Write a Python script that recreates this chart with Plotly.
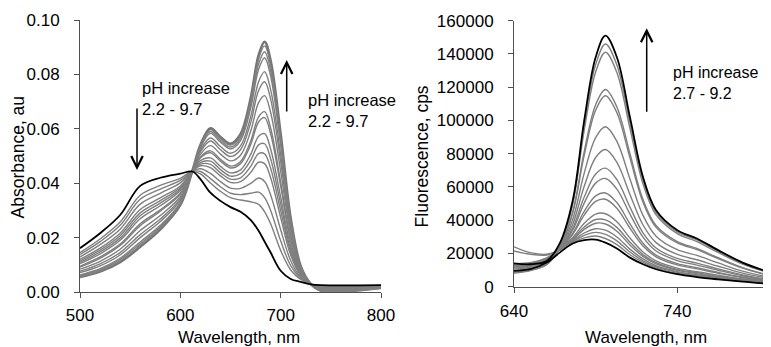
import plotly.graph_objects as go

# ---------------- Absorbance panel data ----------------
abs_wavelength = [500, 520, 540, 560, 580, 600, 612, 620, 630, 640, 650, 660, 670,
                  678, 684, 690, 700, 710, 720, 730, 740, 800]
# lowest pH (black)
abs_low_ph = [.0161, .0216, .0283, .0390, .0420, .0435, .0443, .0415, .0365, .0335, .0312,
              .0295, .0265, .0225, .0185, .0145, .0078, .0048, .0037, .0028, .0025, .0025]
# highest pH (thick grey)
abs_high_ph = [.0055, .0075, .0110, .0166, .0230, .0320, .0445, .0540, .0602, .0570, .0545,
               .0580, .0710, .0870, .0920, .0850, .0580, .0270, .0095, .0030, .0005, .0015]
# intermediate pH curves (grey)
abs_mid = [
    [.0057, .0078, .0113, .0170, .0234, .0322, .0445, .0538, .0597, .0565, .0540, .0574, .0701, .0857, .0905, .0836, .0570, .0266, .0094, .0030, .0005, .0015],
    [.0060, .0082, .0119, .0177, .0240, .0326, .0445, .0534, .0590, .0558, .0533, .0566, .0688, .0838, .0883, .0815, .0555, .0259, .0092, .0030, .0006, .0016],
    [.0063, .0086, .0124, .0184, .0245, .0329, .0445, .0530, .0583, .0551, .0526, .0557, .0674, .0818, .0861, .0794, .0540, .0252, .0090, .0030, .0007, .0016],
    [.0071, .0096, .0136, .0200, .0259, .0337, .0445, .0521, .0566, .0535, .0510, .0537, .0643, .0773, .0810, .0744, .0505, .0237, .0086, .0030, .0008, .0017],
    [.0076, .0103, .0145, .0211, .0268, .0343, .0445, .0515, .0555, .0523, .0498, .0523, .0621, .0741, .0773, .0709, .0480, .0226, .0083, .0030, .0009, .0017],
    [.0084, .0113, .0157, .0226, .0281, .0351, .0444, .0506, .0538, .0507, .0482, .0503, .0590, .0696, .0722, .0660, .0444, .0210, .0079, .0029, .0010, .0018],
    [.0092, .0124, .0171, .0244, .0297, .0360, .0444, .0496, .0519, .0488, .0463, .0480, .0554, .0644, .0663, .0603, .0404, .0192, .0075, .0029, .0012, .0019],
    [.0095, .0129, .0176, .0251, .0302, .0364, .0444, .0493, .0512, .0481, .0456, .0472, .0541, .0625, .0641, .0582, .0389, .0186, .0073, .0029, .0013, .0019],
    [.0104, .0140, .0190, .0269, .0317, .0373, .0444, .0483, .0493, .0462, .0438, .0449, .0505, .0573, .0582, .0526, .0349, .0168, .0068, .0029, .0014, .0020],
    [.0109, .0147, .0198, .0280, .0327, .0379, .0444, .0476, .0481, .0450, .0426, .0435, .0483, .0541, .0545, .0490, .0324, .0157, .0065, .0029, .0015, .0020],
    [.0114, .0154, .0207, .0291, .0336, .0384, .0444, .0470, .0469, .0438, .0415, .0420, .0461, .0509, .0508, .0455, .0299, .0146, .0063, .0029, .0016, .0021],
    [.0120, .0161, .0216, .0303, .0346, .0390, .0444, .0464, .0457, .0427, .0403, .0406, .0439, .0477, .0472, .0420, .0274, .0135, .0060, .0029, .0017, .0021],
    [.0129, .0174, .0231, .0323, .0363, .0401, .0444, .0453, .0436, .0406, .0382, .0381, .0399, .0419, .0406, .0357, .0229, .0115, .0054, .0029, .0019, .0022],
    [.0138, .0185, .0245, .0341, .0378, .0410, .0443, .0443, .0417, .0387, .0363, .0358, .0363, .0367, .0347, .0300, .0188, .0097, .0050, .0028, .0021, .0023],
    [.0145, .0195, .0257, .0356, .0392, .0418, .0443, .0434, .0401, .0370, .0347, .0338, .0332, .0322, .0295, .0251, .0153, .0081, .0046, .0028, .0022, .0024],
]

# ---------------- Fluorescence panel data ----------------
fl_wavelength = [640, 650, 660, 668, 676, 683, 690, 696, 703, 711, 719, 727, 740, 752, 765, 780, 797]
fl_low_ph = [9500, 10500, 14500, 20500, 26000, 28000, 28300, 26500, 23000, 17500, 13500, 10500,
             7500, 5800, 4400, 3000, 1700]
fl_high_ph = [14000, 13500, 15500, 26000, 52000, 100000, 138000, 151000, 138000, 102000, 66000,
              46000, 34000, 29000, 22000, 14500, 8500]
fl_mid = [
    [13900, 14400, 17400, 22000, 26500, 29400, 30500, 29000, 25300, 19200, 14600, 11200, 8000, 6300, 4800, 3200, 1800],
    [24000, 20500, 19500, 22100, 27000, 30900, 32700, 31500, 27600, 20900, 15600, 11900, 8600, 6700, 5100, 3500, 2000],
    [21500, 19500, 19000, 22100, 27600, 32300, 34900, 34000, 29900, 22600, 16700, 12600, 9100, 7200, 5500, 3700, 2100],
    [13500, 14100, 17100, 22200, 28300, 34500, 38200, 37700, 33400, 25100, 18200, 13700, 9900, 7900, 6000, 4000, 2300],
    [13300, 14000, 17000, 22200, 28900, 35900, 40400, 40200, 35700, 26800, 19300, 14400, 10400, 8400, 6300, 4300, 2400],
    [13200, 13800, 16900, 22300, 29600, 38100, 43700, 43900, 39100, 29300, 20900, 15500, 11200, 9000, 6900, 4600, 2700],
    [12700, 13500, 16600, 22400, 31500, 43100, 51300, 52600, 47200, 35200, 24500, 18000, 13100, 10700, 8100, 5400, 3100],
    [12600, 13300, 16400, 22500, 32200, 45300, 54600, 56400, 50600, 37800, 26100, 19000, 13900, 11400, 8600, 5800, 3300],
    [12100, 13000, 16100, 22600, 34100, 50300, 62300, 65100, 58700, 43700, 29800, 21500, 15700, 13000, 9900, 6600, 3800],
    [11800, 12700, 15900, 22700, 35400, 53900, 67800, 71300, 64400, 47900, 32400, 23300, 17000, 14200, 10700, 7100, 4100],
    [11300, 12300, 15500, 22900, 37700, 60400, 77700, 82500, 74800, 55500, 37100, 26500, 19400, 16200, 12300, 8200, 4800],
    [10600, 11700, 15000, 23100, 40600, 68300, 89700, 96200, 87400, 64800, 42900, 30400, 22300, 18800, 14300, 9400, 5500],
    [9700, 11000, 14300, 23400, 44500, 79100, 106200, 114900, 104700, 77500, 50800, 35700, 26300, 22300, 16900, 11200, 6500],
    [9600, 10800, 14200, 23500, 45200, 81300, 109500, 118600, 108100, 80000, 52400, 36800, 27100, 23000, 17400, 11500, 6700],
    [8500, 9900, 13400, 23800, 49900, 94200, 129200, 141000, 128800, 95200, 61800, 43200, 31900, 27100, 20600, 13600, 8000],
    [8200, 9700, 13200, 23900, 51000, 97100, 133600, 146000, 133400, 98600, 63900, 44600, 32900, 28100, 21300, 14000, 8200],
]

abs_xticks = [500, 600, 700, 800]
abs_yticks = [0, 0.02, 0.04, 0.06, 0.08, 0.10]
abs_ytick_text = ["0.00", "0.02", "0.04", "0.06", "0.08", "0.10"]
fl_xticks = [640, 740]
fl_yticks = [0, 20000, 40000, 60000, 80000, 100000, 120000, 140000, 160000]
fl_ytick_text = [str(v) for v in fl_yticks]

# ---------------- Figure ----------------
# page body has an 8 px margin, so the figure is drawn 8 px in from the top-left
OFF = 8
W, H = 771 - OFF, 347 - OFF
def px(x):
    return (x - OFF) / W
def py(y):
    return 1 - (y - OFF) / H

GREY = "#7f7f7f"
fig = go.Figure()

fig.add_trace(go.Scatter(x=abs_wavelength, y=abs_high_ph, mode="lines",
                         line=dict(color="#737373", width=2.6, shape="spline"),
                         xaxis="x", yaxis="y", hoverinfo="skip"))
for c in abs_mid:
    fig.add_trace(go.Scatter(x=abs_wavelength, y=c, mode="lines",
                             line=dict(color=GREY, width=1.4, shape="spline"),
                             xaxis="x", yaxis="y", hoverinfo="skip"))
fig.add_trace(go.Scatter(x=abs_wavelength, y=abs_low_ph, mode="lines",
                         line=dict(color="#000000", width=1.8, shape="spline"),
                         xaxis="x", yaxis="y", hoverinfo="skip"))

for c in fl_mid:
    fig.add_trace(go.Scatter(x=fl_wavelength, y=c, mode="lines",
                             line=dict(color=GREY, width=1.4, shape="spline"),
                             xaxis="x2", yaxis="y2", hoverinfo="skip"))
for c in (fl_low_ph, fl_high_ph):
    fig.add_trace(go.Scatter(x=fl_wavelength, y=c, mode="lines",
                             line=dict(color="#000000", width=1.8, shape="spline"),
                             xaxis="x2", yaxis="y2", hoverinfo="skip"))

FONT = "Liberation Sans, Arial, sans-serif"
tickfont = dict(family=FONT, size=17, color="#000000")
axis_common = dict(showgrid=False, zeroline=False, showline=True, linecolor="#505050",
                   linewidth=1, ticks="outside", ticklen=5, tickcolor="#505050",
                   tickwidth=1, tickfont=tickfont, automargin=False)

fig.update_layout(
    width=W, height=H, margin=dict(l=0, r=0, t=0, b=0, pad=0, autoexpand=False),
    paper_bgcolor="white", plot_bgcolor="white", showlegend=False,
    xaxis=dict(domain=[px(80), px(381)], range=[500, 800], tickvals=abs_xticks,
               anchor="y", ticklabelstandoff=3, **axis_common),
    yaxis=dict(domain=[py(292), py(20)], range=[0, 0.1], tickvals=abs_yticks,
               ticktext=abs_ytick_text, anchor="x", ticklabelstandoff=11, **axis_common),
    xaxis2=dict(domain=[px(514), 1.0], range=[640, 640 + (771 - 514) / 1.633],
                tickvals=fl_xticks, anchor="y2", ticklabelstandoff=4, **axis_common),
    yaxis2=dict(domain=[py(286.7), py(20.7)], range=[0, 160000], tickvals=fl_yticks,
                ticktext=fl_ytick_text, anchor="x2", ticklabelstandoff=11, **axis_common),
)

title_font = dict(family=FONT, size=17.5, color="#000000")
xtitle_font = dict(family=FONT, size=17, color="#000000")
note_left = dict(family=FONT, size=16.5, color="#000000")
note_right = dict(family=FONT, size=16, color="#000000")
ann = [
    dict(text="Absorbance, au", x=px(17), y=py(157.5), textangle=-90, font=title_font),
    dict(text="Wavelength, nm", x=px(239), y=py(337), font=xtitle_font),
    dict(text="Fluorescence, cps", x=px(421.7), y=py(156.7), textangle=-90, font=title_font),
    dict(text="Wavelength, nm", x=px(646), y=py(337), font=xtitle_font),
    dict(text="pH increase<br>2.2 - 9.7", x=px(139.5), y=py(98.5), xanchor="left",
         align="left", font=note_left),
    dict(text="pH increase<br>2.2 - 9.7", x=px(305.5), y=py(110.8), xanchor="left",
         align="left", font=note_left),
    dict(text="pH increase<br>2.7 - 9.2", x=px(670.5), y=py(83.3), xanchor="left",
         align="left", font=note_right),
]
for a in ann:
    a.setdefault("xanchor", "center")
    fig.add_annotation(xref="paper", yref="paper", showarrow=False, yanchor="middle", **a)

arrows = [
    (137, 170, -63),
    (286.7, 60, 53),
    (646.7, 28.3, 85),
]
for x, y, ay in arrows:
    fig.add_annotation(xref="paper", yref="paper", x=px(x), y=py(y), ax=0, ay=ay,
                       text="", showarrow=True, arrowhead=5, arrowsize=1.5,
                       arrowwidth=1.5, arrowcolor="#000000", standoff=0)

fig.write_html("out.html")
